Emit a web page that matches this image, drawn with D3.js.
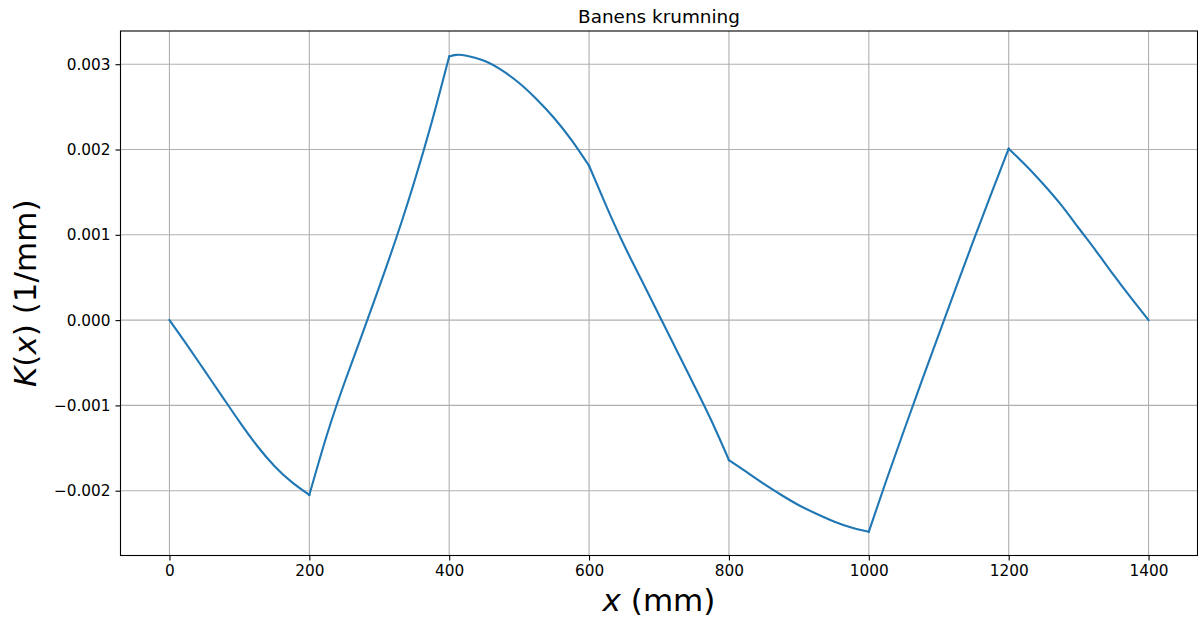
<!DOCTYPE html>
<html>
<head>
<meta charset="utf-8">
<script src="https://cdn.jsdelivr.net/npm/d3@7"></script>
<style>
  html, body { margin: 0; padding: 0; background: #fff; }
  svg { display: block; font-family: "DejaVu Sans", sans-serif; }
</style>
</head>
<body>
<svg id="chart" width="1198" height="621"></svg>
<script>
// ---- data ----
const xValues = [0,25,50,75,100,125,150,175,200,225,250,275,300,325,350,375,400,410,425,450,475,500,525,550,575,600,625,650,675,700,725,750,775,800,825,850,875,900,925,950,975,1000,1025,1050,1075,1100,1125,1150,1175,1200,1225,1250,1275,1300,1325,1350,1375,1400];
const kValues = [0,-0.00029,-0.00059,-0.00089,-0.00119,-0.00147,-0.00171,-0.00190,-0.00205,
  -0.00135,-0.00074,-0.00018,0.00039,0.00098,0.00162,0.00232,0.00309,
  0.00311,0.00310,0.00304,0.00293,0.00278,0.00259,0.00237,0.00211,0.00181,
  0.00133,0.00088,0.00047,0.00006,-0.00035,-0.00076,-0.00118,-0.00164,
  -0.00178,-0.00192,-0.00205,-0.00217,-0.00227,-0.00236,-0.00243,-0.00248,
  -0.00188,-0.00130,-0.00073,-0.00017,0.00039,0.00094,0.00148,0.00201,
  0.00181,0.00159,0.00135,0.00108,0.00081,0.00053,0.00026,0];
const kinkX = [200,400,600,800,1000,1200];
const xTicks = [0,200,400,600,800,1000,1200,1400];
const yTicks = [-0.002,-0.001,0,0.001,0.002,0.003];
const titleText = "Banens krumning";

// ---- layout ----
const svg = d3.select("#chart");
const L = 120.5, R = 1197.5, T = 31, B = 555.5;

const pts = xValues.map((x, i) => ({x, k: kValues[i]}));
const xMin = d3.min(xValues), xMax = d3.max(xValues);
const kMin = d3.min(kValues), kMax = d3.max(kValues);
const xPad = (xMax - xMin) * 0.05, kPad = (kMax - kMin) * 0.05;

const x = d3.scaleLinear().domain([xMin - xPad, xMax + xPad]).range([L, R]);
const y = d3.scaleLinear().domain([kMin - kPad, kMax + kPad]).range([B, T]);

// grid
const grid = svg.append("g");
grid.selectAll("line.gx").data(xTicks).join("line")
  .attr("x1", d => x(d)).attr("x2", d => x(d)).attr("y1", T).attr("y2", B)
  .attr("stroke", "#b0b0b0").attr("stroke-width", 1.1);
grid.selectAll("line.gy").data(yTicks).join("line")
  .attr("y1", d => y(d)).attr("y2", d => y(d)).attr("x1", L).attr("x2", R)
  .attr("stroke", "#b0b0b0").attr("stroke-width", 1.1);

// line pieces split at kinks (smooth within each piece)
const bounds = [xMin, ...kinkX, xMax];
const line = d3.line().x(d => x(d.x)).y(d => y(d.k)).curve(d3.curveNatural);
for (let i = 0; i < bounds.length - 1; i++) {
  const seg = pts.filter(p => p.x >= bounds[i] && p.x <= bounds[i + 1]);
  svg.append("path").datum(seg).attr("d", line)
    .attr("fill", "none").attr("stroke", "#1f77b4").attr("stroke-width", 2.1)
    .attr("stroke-linejoin", "round").attr("stroke-linecap", "square");
}

// axes
const xAxis = d3.axisBottom(x).tickValues(xTicks).tickSize(5).tickPadding(5).tickFormat(d3.format("d"));
const yAxis = d3.axisLeft(y).tickValues(yTicks).tickSize(5).tickPadding(5).tickFormat(d3.format(".3f"));
const gx = svg.append("g").attr("transform", `translate(0,${B})`).call(xAxis);
const gy = svg.append("g").attr("transform", `translate(${L},0)`).call(yAxis);
[gx, gy].forEach(g => {
  g.select(".domain").remove();
  g.selectAll(".tick line").attr("stroke", "#000").attr("stroke-width", 1.1);
  g.selectAll(".tick text").attr("fill", "#000").style("font-size", "15.3px")
    .style("font-family", "DejaVu Sans, sans-serif");
});

// frame
svg.append("rect").attr("x", L).attr("y", T).attr("width", R - L).attr("height", B - T)
  .attr("fill", "none").attr("stroke", "#000").attr("stroke-width", 1.1);

// title
svg.append("text").attr("x", (L + R) / 2).attr("y", 23).attr("text-anchor", "middle")
  .style("font-size", "18.4px").attr("fill", "#000").text(titleText);

// x label
const xl = svg.append("text").attr("x", (L + R) / 2).attr("y", 611).attr("text-anchor", "middle")
  .style("font-size", "31px").attr("fill", "#000");
xl.append("tspan").style("font-style", "italic").text("x");
xl.append("tspan").text(" (mm)");

// y label
const yl = svg.append("text").attr("transform", `translate(36,${(T + B) / 2}) rotate(-90)`)
  .attr("text-anchor", "middle").style("font-size", "31px").attr("fill", "#000");
yl.append("tspan").style("font-style", "italic").text("K");
yl.append("tspan").text("(");
yl.append("tspan").style("font-style", "italic").text("x");
yl.append("tspan").text(") (1/mm)");
</script>
</body>
</html>
